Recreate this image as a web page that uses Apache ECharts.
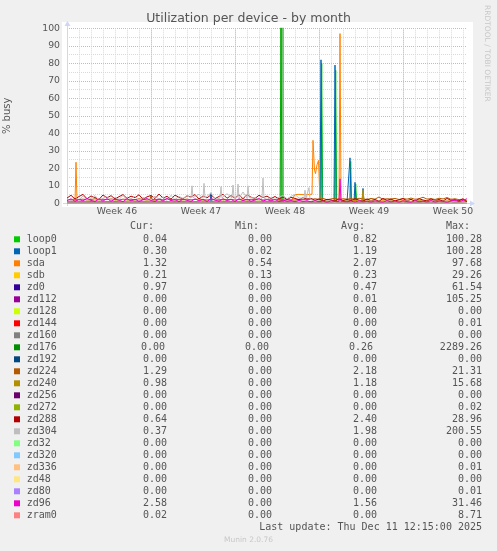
<!DOCTYPE html>
<html><head><meta charset="utf-8">
<script src="https://cdn.jsdelivr.net/npm/echarts@6/dist/echarts.min.js"></script>
<style>html,body{margin:0;padding:0;background:#f0f0f0}#c{width:497px;height:551px}</style>
</head><body><div id="c"></div><script>
// ---- data (x in 2-hour slots; slot 0 = Monday of week 46) ----
const X0 = -8, X1 = 392;
const weekLabels = ['Week 46','Week 47','Week 48','Week 49','Week 50'];
const weekLabelSlots = [42, 126, 210, 294, 378];
const names = ['loop0','loop1','sda','sdb','zd0','zd112','zd128','zd144','zd160','zd176','zd192','zd224','zd240','zd256','zd272','zd288','zd304','zd32','zd320','zd336','zd48','zd80','zd96','zram0'];
const colors = ['#00CC00','#0066B3','#FF8000','#FFCC00','#330099','#990099','#CCFF00','#FF0000','#808080','#008F00','#00487D','#B35A00','#B38F00','#6B006B','#8FB300','#B30000','#BEBEBE','#80FF80','#80C9FF','#FFC080','#FFE680','#AA80FF','#EE00CC','#FF8080'];
const curVals = ['0.04','0.30','1.32','0.21','0.97','0.00','0.00','0.00','0.00','0.00','0.00','1.29','0.98','0.00','0.00','0.64','0.37','0.00','0.00','0.00','0.00','0.00','2.58','0.02'];
const minVals = ['0.00','0.02','0.54','0.13','0.00','0.00','0.00','0.00','0.00','0.00','0.00','0.00','0.00','0.00','0.00','0.00','0.00','0.00','0.00','0.00','0.00','0.00','0.00','0.00'];
const avgVals = ['0.82','1.19','2.07','0.23','0.47','0.01','0.00','0.00','0.00','0.26','0.00','2.18','1.18','0.00','0.00','2.40','1.98','0.00','0.00','0.00','0.00','0.00','1.56','0.00'];
const maxVals = ['100.28','100.28','97.68','29.26','61.54','105.25','0.00','0.01','0.00','2289.26','0.00','21.31','15.68','0.00','0.02','28.96','200.55','0.00','0.00','0.01','0.00','0.01','31.46','8.71'];

// base samples every 4 slots (101 values)
const zd288Base = [3.0,4.6,2.4,3.9,5.1,2.6,4.2,3.3,2.2,4.8,3.1,
 4.4,2.5,3.8,5.0,2.8,4.1,3.2,4.9,2.3,3.7,
 4.5,2.7,5.3,3.0,4.0,2.4,4.7,3.4,2.6,4.3,
 3.6,5.0,2.5,4.2,3.1,4.8,2.7,3.9,5.2,2.9,
 4.4,3.0,4.9,2.6,5.0,3.5,2.8,4.6,3.3,4.1,
 2.7,3.9,2.5,3.6,2.2,3.4,2.8,2.1,3.2,2.4,
 2.8,1.7,2.5,1.4,2.3,1.9,1.3,2.6,1.6,2.2,
 1.5,2.7,1.8,1.3,2.5,1.6,2.2,1.2,2.8,1.7,
 2.4,1.4,2.0,2.7,1.5,2.3,1.2,2.6,1.9,1.4,
 2.5,1.6,2.2,1.3,2.8,1.7,2.1,1.4,2.6,0.6];
const zd304Base = [2.5,1.4,3.6,2.0,4.1,1.6,3.0,4.4,1.8,2.9,3.8,
 1.7,3.5,2.2,4.5,1.9,2.7,4.0,1.5,3.4,2.6,
 1.8,4.2,2.3,3.7,1.6,4.6,2.1,3.9,2.8,4.5,
 2.0,3.8,5.2,2.4,3.3,6.0,2.2,4.7,2.9,5.5,
 2.6,4.8,2.9,6.5,2.5,4.3,3.1,2.0,3.9,2.3,
 3.3,1.9,3.6,4.5,2.6,4.0,5.0,3.0,3.8,2.2,
 1.8,1.0,1.6,0.7,1.4,1.1,0.6,1.5,0.9,1.3,
 1.0,0.6,1.4,1.1,0.7,1.5,0.9,1.3,0.6,1.2,
 1.4,0.8,1.2,0.6,1.5,0.9,1.1,1.3,0.7,1.2,
 0.9,1.4,0.7,1.2,1.3,0.6,1.4,1.0,0.8,0.4];
const zd96Base = [1.5,2.6,1.1,2.2,1.4,2.8,1.7,1.0,2.5,1.3,2.7,
 1.2,2.4,1.8,0.9,2.6,1.4,2.3,1.1,2.0,2.7,
 1.6,1.0,2.5,1.3,2.8,1.5,2.2,0.9,2.4,1.7,
 1.1,2.6,1.4,2.3,1.0,2.7,1.8,1.2,2.5,1.6,
 2.2,1.0,2.6,1.5,2.4,1.2,1.9,2.7,1.3,2.1,
 1.4,2.2,1.0,1.9,1.2,1.6,0.9,1.7,1.1,1.5,
 0.8,1.5,0.9,1.3,0.6,1.4,1.0,0.7,1.6,0.9,
 1.3,0.6,1.5,0.9,1.2,0.7,1.4,1.0,0.6,1.5,
 0.8,1.3,0.7,1.4,1.0,0.6,1.5,0.9,1.2,0.8,
 1.6,0.7,1.3,1.1,0.6,1.4,1.8,0.9,1.7,2.6];
const sdaBase = [0.8,0.7,0.9,0.8,1.0,0.7,0.8,0.9,0.7,0.8,1.0,
 0.8,0.7,0.9,0.8,0.7,1.0,0.8,0.9,0.7,0.8,
 0.9,0.7,0.8,1.0,0.8,0.7,0.9,0.8,0.7,0.9,
 0.8,1.0,0.7,0.8,0.9,0.7,0.8,1.0,0.8,0.7,
 0.9,0.8,0.7,1.0,0.8,0.9,0.7,0.8,0.9,0.8,
 0.9,0.8,1.2,1.0,1.0,1.2,5.0,5.1,5.0,5.0,
 5.1,1.5,1.4,1.2,1.3,1.1,1.4,1.2,1.5,1.3,
 1.2,1.6,1.3,1.4,1.2,1.5,1.1,1.3,1.4,1.2,
 1.5,1.3,1.2,1.6,1.4,1.1,1.3,1.5,1.2,1.4,
 1.3,1.2,1.5,1.1,1.4,1.3,1.6,1.2,1.4,1.3];
const zd224Base = [2.3,2.0,2.5,2.1,2.4,1.9,2.2,2.6,2.0,2.3,2.1,
 2.5,2.2,1.9,2.4,2.1,2.3,2.0,2.6,2.2,1.9,
 2.4,2.1,2.3,2.0,2.5,2.2,1.9,2.3,2.1,2.4,
 2.0,2.2,2.5,2.1,1.9,2.3,2.2,2.0,2.4,2.1,
 2.3,1.9,2.2,2.5,2.0,2.3,2.1,2.4,1.9,2.2,
 2.0,2.3,2.1,1.8,2.2,2.0,1.9,2.3,2.1,2.4,
 2.2,2.6,2.3,2.8,2.1,2.5,2.9,2.2,2.6,2.4,
 2.7,2.3,2.9,2.5,2.2,2.8,2.4,3.6,2.3,2.6,
 2.5,2.8,2.2,2.7,2.4,3.0,2.3,2.6,3.5,2.4,
 2.7,2.2,2.9,2.5,3.3,2.3,2.6,2.1,2.4,1.3];
// base samples every 8 slots (51 values)
const loop0Base = [0.3,0.2,0.4,0.3,0.5,0.2,0.3,0.4,0.2,0.3,
 0.5,0.3,0.2,0.4,0.3,0.2,0.4,0.3,0.5,0.2,
 0.3,0.4,0.2,0.3,0.5,0.3,0.2,0.4,0.3,0.2,
 0.4,0.3,0.2,0.5,0.3,0.2,0.4,0.3,0.2,0.3,
 0.2,0.4,0.3,0.2,0.3,0.2,0.4,0.2,0.3,0.2,0.04];
const loop1Base = [0.6,0.8,0.5,0.9,0.7,0.6,1.0,0.7,0.5,0.8,
 0.6,0.9,0.7,0.5,0.8,1.0,0.6,0.7,0.9,0.5,
 0.8,0.6,0.7,1.0,0.5,0.8,0.9,0.6,0.7,0.5,
 0.8,0.6,0.9,0.7,0.5,0.8,0.6,1.0,0.7,0.5,
 0.6,0.8,0.4,0.7,0.5,0.6,0.4,0.8,0.5,0.6,0.3];
const sdbBase = [0.2,0.25,0.2,0.15,0.2,0.25,0.2,0.2,0.15,0.25,
 0.2,0.2,0.25,0.15,0.2,0.2,0.25,0.2,0.15,0.2,
 0.25,0.2,0.2,0.15,0.25,0.2,0.2,0.25,0.15,0.2,
 0.2,0.25,0.2,0.15,0.2,0.25,0.2,0.2,0.15,0.25,
 0.2,0.2,0.25,0.15,0.2,0.2,0.25,0.2,0.15,0.2,0.21];
const zd0Base = [0.4,0.5,0.3,0.6,0.4,0.5,0.4,0.3,0.5,0.6,
 0.4,0.3,0.5,0.4,0.6,0.4,0.5,0.3,0.4,0.5,
 0.6,0.4,0.3,0.5,0.4,0.5,0.6,0.4,0.3,0.5,
 0.4,0.5,0.4,0.6,0.3,0.4,0.5,0.4,0.6,0.5,
 0.4,0.3,0.5,0.4,0.5,0.6,0.4,0.3,0.5,0.4,0.97];
const zd240Base = [1.1,1.3,1.0,1.4,1.2,0.9,1.3,1.1,1.5,1.0,
 1.2,1.4,1.1,0.9,1.3,1.2,1.0,1.4,1.1,1.3,
 1.2,0.9,1.4,1.1,1.3,1.0,1.2,1.5,1.1,1.3,
 1.0,1.2,1.4,1.1,0.9,1.3,1.2,1.0,1.4,1.1,
 1.3,1.2,0.9,1.1,1.4,1.0,1.2,1.3,1.1,0.9,1.0];
// flat series sampled at both ends
const zeroBase = [0, 0];
// spikes as [slot, value]
const loop0Spikes = [[205,0.3],[206,100.28],[207,0.3],[245.7,0.3],[246.7,80],[247.7,0.3],[259.7,0.3],[260.7,76],[261.7,0.3],[274.7,0.3],[275.7,24],[276.7,0.3],[279.7,0.3],[280.7,11],[281.7,0.3]];
const loop1Spikes = [[135,0.7],[136,6],[137,0.7],[245,0.8],[246,82],[247,1.5],[259,0.6],[260,79],[261,1],[274,0.6],[275,26],[276,0.8],[279,0.6],[280,12],[281,0.8],[287,0.6],[288,8.5],[289,0.6]];
const sdaSpikes = [[0,0.8],[1,23.5],[2,0.8],[237,5.2],[238,36],[239.5,19],[240.5,17],[242,22],[243.5,24.5],[245,1.5],[264,1.3],[265,97],[266,1.4],[287,1.3],[288,6],[289,1.4]];
const zd176Spikes = [[206,0],[207,2289.26],[208,0]];
const zd240Spikes = [[287,1.1],[288,7.5],[289,1.1]];
const zd224Spikes = [[75,2.2],[76,4.5],[77,2.2]];
const zd304Spikes = [[116,3],[117,10],[118,3.2],[128,2.8],[129,11.4],[130,3],[145,3],[146,9.5],[147,3.1],[157,3],[158,10.5],[159,3.5],[162,3.2],[163,11],[164,3],[172,3],[173,10],[174,3.3],[187,3],[188,14.5],[189,3],[229,3],[230,7.5],[231,3],[233,3],[234,9],[235,2.5]];
const zd96Spikes = [[264,1.1],[265,14],[266,1.2]];

function merge(base, spikes) {
  const step = (X1 - X0) / (base.length - 1);
  const pts = [];
  base.forEach((v, i) => {
    const x = X0 + step * i;
    if (!spikes.some(p => Math.abs(p[0] - x) < 2)) pts.push([x, v]);
  });
  return pts.concat(spikes).sort((a, b) => a[0] - b[0]);
}
const seriesData = {
  loop0: merge(loop0Base, loop0Spikes),
  loop1: merge(loop1Base, loop1Spikes),
  sda: merge(sdaBase, sdaSpikes),
  sdb: merge(sdbBase, []),
  zd0: merge(zd0Base, []),
  zd176: merge(zeroBase, zd176Spikes),
  zd224: merge(zd224Base, zd224Spikes),
  zd240: merge(zd240Base, zd240Spikes),
  zd288: merge(zd288Base, []),
  zd304: merge(zd304Base, zd304Spikes),
  zd96: merge(zd96Base, zd96Spikes)
};

const FONT = '"DejaVu Sans", sans-serif';
const MONO = '"DejaVu Sans Mono", monospace';
const TXT = '#555';
const GRID_MINOR = '#d9d9d9';
const GRID_MAJOR = '#eea8a8';
const AXIS = '#CFD6F8';

const series = names.map((n, i) => ({
  name: n, type: 'line', xAxisIndex: 0, yAxisIndex: 0,
  data: seriesData[n] || merge(zeroBase, []),
  showSymbol: false, symbol: 'none', animation: false, clip: true,
  lineStyle: { width: 1, color: colors[i] }, itemStyle: { color: colors[i] },
  z: 2 + i * 0.01
}));

const graphic = [
  { type: 'rect', z: -1, silent: true, shape: { x: 62, y: 22, width: 411, height: 185 }, style: { fill: '#fff' } },
  { type: 'line', z: 1, silent: true, shape: { x1: 67.5, y1: 206, x2: 67.5, y2: 25 }, style: { stroke: AXIS, lineWidth: 1 } },
  { type: 'polygon', z: 1, silent: true, shape: { points: [[64.5, 26], [70.5, 26], [67.5, 21]] }, style: { fill: AXIS } },
  { type: 'line', z: 1, silent: true, shape: { x1: 63, y1: 203.5, x2: 471, y2: 203.5 }, style: { stroke: AXIS, lineWidth: 1 } },
  { type: 'polygon', z: 1, silent: true, shape: { points: [[470, 200.5], [470, 206.5], [475, 203.5]] }, style: { fill: AXIS } },
  { type: 'text', x: 487, y: 5, rotation: -Math.PI / 2, silent: true,
    style: { text: 'RRDTOOL / TOBI OETIKER', x: 0, y: 0, align: 'left', verticalAlign: 'middle', font: '7.5px ' + FONT, fill: '#c8c8c8' } }
];
const headers = [['Cur:', 154], ['Min:', 259], ['Avg:', 365], ['Max:', 470]];
headers.forEach(h => graphic.push({ type: 'text', silent: true,
  style: { text: h[0], x: h[1], y: 226.7, align: 'right', verticalAlign: 'middle', font: '10px ' + MONO, fill: TXT } }));
names.forEach((n, i) => {
  const y = 239.3 + 12 * i;
  graphic.push({ type: 'rect', silent: true, shape: { x: 14, y: y - 3, width: 6, height: 6 }, style: { fill: colors[i] } });
  graphic.push({ type: 'text', silent: true, style: { text: n, x: 26.7, y: y, align: 'left', verticalAlign: 'middle', font: '10px ' + MONO, fill: TXT } });
  const wide = maxVals[i].length > 6;
  [[curVals[i], wide ? 165 : 167], [minVals[i], wide ? 269 : 272], [avgVals[i], wide ? 373 : 377], [maxVals[i], 482]].forEach(c => {
    graphic.push({ type: 'text', silent: true, style: { text: c[0], x: c[1], y: y, align: 'right', verticalAlign: 'middle', font: '10px ' + MONO, fill: TXT } });
  });
});
graphic.push({ type: 'text', silent: true, style: { text: 'Last update: Thu Dec 11 12:15:00 2025', x: 482, y: 527.7, align: 'right', verticalAlign: 'middle', font: '10px ' + MONO, fill: TXT } });
graphic.push({ type: 'text', silent: true, style: { text: 'Munin 2.0.76', x: 248.5, y: 540, align: 'center', verticalAlign: 'middle', font: '7.5px ' + FONT, fill: '#c8c8c8' } });

const chart = echarts.init(document.getElementById('c'), null, { renderer: 'canvas' });
chart.setOption({
  backgroundColor: '#f0f0f0',
  animation: false,
  title: { text: 'Utilization per device - by month', left: 'center', top: 12, padding: 0,
    textStyle: { fontFamily: FONT, fontSize: 12.5, fontWeight: 'normal', color: TXT } },
  grid: { left: 67, right: 30, top: 28.33, bottom: 347.67, containLabel: false, outerBoundsMode: 'none' },
  xAxis: [
    { type: 'value', position: 'bottom', min: X0, max: X1, interval: 12, axisLine: { show: false }, axisTick: { show: false }, axisLabel: { show: false },
      splitLine: { show: true, showMinLine: false, showMaxLine: false, lineStyle: { color: GRID_MINOR, type: [1, 1], width: 1 } } },
    { type: 'value', position: 'bottom', min: X0, max: X1, interval: 84, axisLine: { show: false }, axisTick: { show: false },
      axisLabel: { show: true, customValues: weekLabelSlots, margin: 4, fontFamily: FONT, fontSize: 9.3, color: TXT, hideOverlap: false,
        formatter: v => { const k = weekLabelSlots.indexOf(v); return k >= 0 ? weekLabels[k] : ''; } },
      splitLine: { show: true, showMinLine: false, showMaxLine: false, lineStyle: { color: GRID_MAJOR, type: [1, 1], width: 1 } } }
  ],
  yAxis: {
    type: 'value', min: 0, max: 100, interval: 10,
    name: '% busy', nameLocation: 'middle', nameGap: 55, nameRotate: 90,
    nameTextStyle: { fontFamily: FONT, fontSize: 10, color: TXT },
    axisLine: { show: false }, axisTick: { show: false },
    axisLabel: { margin: 7, fontFamily: FONT, fontSize: 9.3, color: TXT },
    splitLine: { show: true, showMinLine: false, lineStyle: { color: GRID_MAJOR, type: [1, 1], width: 1 } },
    minorTick: { show: false, splitNumber: 2 },
    minorSplitLine: { show: true, lineStyle: { color: GRID_MINOR, type: [1, 1], width: 1 } }
  },
  graphic: graphic,
  series: series
});
</script></body></html>
